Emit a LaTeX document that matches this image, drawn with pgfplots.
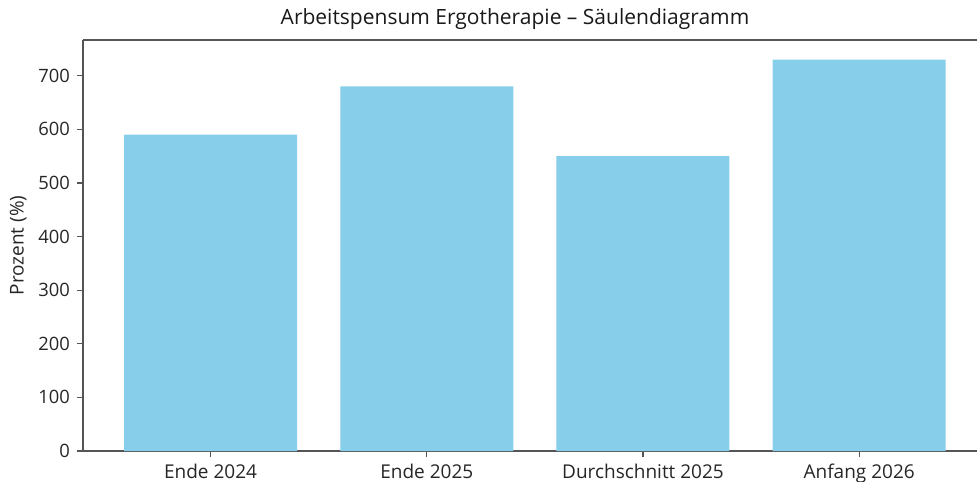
\documentclass[border=0pt]{standalone}
\usepackage{pgfplots}
\pgfplotsset{compat=1.18}
\usepackage{fontspec}
\setmainfont{Open Sans}
\definecolor{skyblue}{HTML}{87CEEB}
\definecolor{spine}{HTML}{555555}
\begin{document}
\begin{tikzpicture}
\begin{axis}[
  scale only axis,
  width=447pt, height=205.5pt,
  at={(0,0)}, anchor=south west,
  xmin=-0.59, xmax=3.545,
  ymin=0, ymax=766.5,
  axis x line*=bottom, axis y line*=left,
  axis line style={spine, line width=0.8pt, -},
  xtick={0,1,2,3},
  xticklabels={Ende 2024, Ende 2025, Durchschnitt 2025, Anfang 2026},
  ytick={0,100,...,700},
  tick align=outside,
  major tick length=3pt,
  tick style={spine, line width=0.6pt},
  xticklabel style={font=\fontsize{9.5}{11}\selectfont, text=black!85},
  yticklabel style={font=\fontsize{9.2}{11}\selectfont, text=black!85},
  /pgf/number format/assume math mode=true,
  ylabel={Prozent (\%)},
  ylabel style={font=\fontsize{9.5}{11}\selectfont, text=black!85, yshift=-1pt},
  title={Arbeitspensum Ergotherapie – Säulendiagramm},
  title style={font=\fontsize{10.5}{12}\selectfont, text=black!90, yshift=-4.5pt, xshift=-7.5pt},
  ybar, bar width=0.8,
  clip=false,
]
\addplot[fill=skyblue, draw=none] coordinates {(0,590) (1,680) (2,550) (3,730)};
\draw[spine, line width=0.8pt] (rel axis cs:0,1) -- (rel axis cs:1,1);
\end{axis}
\pgfresetboundingbox
\path[use as bounding box] (-41.5pt,-15pt) rectangle (447pt,225.5pt);
\end{tikzpicture}
\end{document}
